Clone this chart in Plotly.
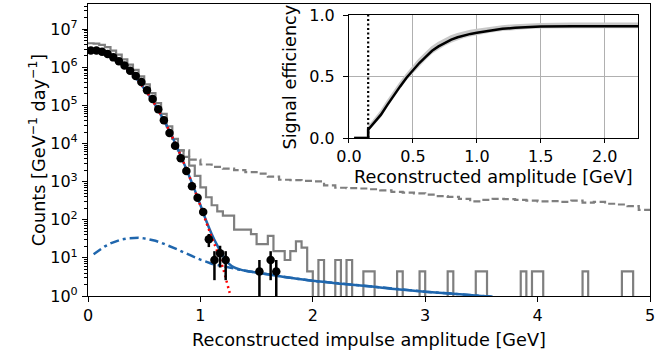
import plotly.graph_objects as go

# ---------------- data ----------------
# measured points (bin centres, GeV) and rates [GeV^-1 day^-1]
pt_x = [0.025, 0.075, 0.125, 0.175, 0.225, 0.275, 0.325, 0.375, 0.425, 0.475,
        0.525, 0.575, 0.625, 0.675, 0.725, 0.775, 0.825, 0.875, 0.925, 0.975,
        1.025, 1.075, 1.125, 1.175, 1.225, 1.525, 1.625, 1.675]
pt_y = [2.75e6, 2.75e6, 2.57e6, 2.24e6, 1.82e6, 1.45e6, 1.12e6, 8.1e5, 5.9e5, 4.1e5,
        2.5e5, 1.48e5, 7.9e4, 4.1e4, 1.9e4, 8.7e3, 4.1e3, 1.9e3, 760, 380,
        160, 30.8, 8.8, 13.2, 8.8, 4.4, 8.8, 4.4]
pt_err_up = [3500, 3500, 3400, 3100, 2800, 2500, 2200, 1900, 1600, 1350,
             1050, 800, 590, 420, 290, 195, 134, 91, 58, 41,
             26.5, 11.6, 6.2, 7.6, 6.2, 4.4, 6.2, 4.4]
pt_err_dn = [3500, 3500, 3400, 3100, 2800, 2500, 2200, 1900, 1600, 1350,
             1050, 800, 590, 420, 290, 195, 134, 91, 58, 41,
             26.5, 11.6, 6.2, 7.6, 6.2, 3.4, 6.2, 3.4]

# histogram after cuts (solid grey), 0.05 GeV bins starting at 0
hist_edge0 = 0.0
hist_width = 0.05
hist_solid = [4.27e6, 4.17e6, 3.89e6, 3.39e6, 2.75e6, 2.14e6, 1.62e6, 1.17e6, 8.5e5, 5.75e5,
              3.55e5, 2.09e5, 1.15e5, 6.0e4, 2.8e4, 1.32e4, 6600, 4470, 2630, 1410,
              710, 390, 240, 166, 129, 129, 55, 55, 55, 42,
              23, 23, 38, 15, 15, 8.8, 15, 27, 18.5, 4.4,
              0, 8.8, 0, 0, 8.8, 0, 8.8, 0, 0, 4.4,
              4.4, 0, 0, 0, 0, 4.4, 0, 0, 0, 4.4,
              0, 0, 0, 0, 4.4, 0, 0, 0, 0, 4.4,
              4.4, 0, 0, 0, 0, 0, 0, 4.4, 0, 4.4,
              4.4, 0, 0, 0, 0, 0, 0, 0, 4.4, 0,
              0, 0, 0, 0, 0, 4.4, 4.4, 0, 0, 0]

# histogram before cuts (dashed grey), 0.1 GeV bins starting at 0.8
dash_edge0 = 0.8
dash_width = 0.1
hist_dashed = [6600, 3800, 2820, 2450, 2190, 2000, 1780, 1620, 1350, 1120,
               1100, 1050, 1020, 794, 692, 676, 661, 631, 589, 537,
               513, 490, 457, 417, 398, 355, 302, 331, 355, 347,
               331, 316, 302, 309, 295, 316, 282, 295, 263, 251,
               229, 182]

# fit components
fit_x = [0.00, 0.05, 0.10, 0.15, 0.20, 0.25, 0.30, 0.35, 0.40, 0.45,
         0.50, 0.55, 0.60, 0.65, 0.70, 0.75, 0.80, 0.85, 0.90, 0.95,
         1.00, 1.05, 1.10, 1.15, 1.20, 1.25, 1.30]
signal_y = [2.82e6, 2.75e6, 2.57e6, 2.29e6, 1.95e6, 1.58e6, 1.23e6, 9.1e5, 6.5e5, 4.3e5,
            2.75e5, 1.70e5, 1.0e5, 5.5e4, 2.95e4, 1.48e4, 7.1e3, 3.2e3, 1.41e3, 590,
            234, 89, 35.5, 14.8, 5.5, 1.58, 0.45]

total_x = [0.00, 0.05, 0.10, 0.15, 0.20, 0.25, 0.30, 0.35, 0.40, 0.45,
           0.50, 0.55, 0.60, 0.65, 0.70, 0.75, 0.80, 0.85, 0.90, 0.95,
           1.00, 1.05, 1.10, 1.15, 1.20, 1.25, 1.30, 1.35, 1.40, 1.50,
           1.60, 1.80, 2.00, 2.25, 2.50, 2.75, 3.00, 3.25, 3.50, 3.60]
total_y = [2.82e6, 2.75e6, 2.57e6, 2.29e6, 1.95e6, 1.58e6, 1.23e6, 9.1e5, 6.5e5, 4.3e5,
           2.75e5, 1.70e5, 1.0e5, 5.5e4, 2.95e4, 1.48e4, 7.1e3, 3.2e3, 1.41e3, 600,
           243, 97, 42.5, 21.3, 11.5, 7.2, 5.65, 5.0, 4.6, 4.1,
           3.7, 3.0, 2.5, 2.1, 1.8, 1.5, 1.3, 1.15, 1.0, 0.95]

bkg_x = [0.05, 0.10, 0.15, 0.20, 0.25, 0.30, 0.35, 0.40, 0.45, 0.50,
         0.55, 0.60, 0.65, 0.70, 0.75, 0.80, 0.85, 0.90, 0.95, 1.00,
         1.05, 1.10, 1.15, 1.20, 1.25, 1.30, 1.35, 1.40, 1.50, 1.60,
         1.80, 2.00, 2.25, 2.50, 2.75, 3.00, 3.25, 3.50, 3.60]
bkg_y = [12.5, 16, 20, 24, 27.5, 30.5, 32.5, 33.5, 33.5, 32.5,
         30.5, 28, 25, 22, 19, 16.5, 14, 12, 10.5, 9,
         8, 7, 6.5, 6, 5.6, 5.2, 4.9, 4.6, 4.1, 3.7,
         3.0, 2.5, 2.1, 1.8, 1.5, 1.3, 1.15, 1.0, 0.95]

# inset: signal efficiency
eff_x = [0.04, 0.15, 0.15, 0.20, 0.25, 0.30, 0.35, 0.40, 0.45, 0.50,
         0.55, 0.60, 0.65, 0.70, 0.75, 0.80, 0.85, 0.90, 0.95, 1.00,
         1.10, 1.20, 1.30, 1.40, 1.50, 1.75, 2.00, 2.26]
eff_y = [0.0, 0.0, 0.068, 0.13, 0.19, 0.27, 0.35, 0.42, 0.49, 0.55,
         0.61, 0.66, 0.71, 0.745, 0.775, 0.80, 0.82, 0.835, 0.847, 0.857,
         0.875, 0.888, 0.897, 0.903, 0.907, 0.91, 0.91, 0.91]
eff_lo = [0.0, 0.0, 0.055, 0.115, 0.17, 0.25, 0.33, 0.40, 0.47, 0.525,
          0.585, 0.635, 0.685, 0.72, 0.75, 0.775, 0.797, 0.813, 0.826, 0.837,
          0.856, 0.87, 0.88, 0.886, 0.89, 0.893, 0.893, 0.893]
eff_hi = [0.0, 0.0, 0.08, 0.145, 0.21, 0.29, 0.37, 0.44, 0.51, 0.575,
          0.635, 0.685, 0.735, 0.77, 0.80, 0.825, 0.843, 0.857, 0.868, 0.877,
          0.894, 0.906, 0.914, 0.92, 0.924, 0.927, 0.927, 0.927]
threshold = 0.15

# ---------------- build ----------------
BLUE = "#1f66ad"
GREY = "#7f7f7f"
FONT = "DejaVu Sans"
TICK_SIZE = 16
TITLE_SIZE = 17.7


def step_xy(edge0, width, vals, floor=1e-2):
    xs, ys = [], []
    for i, v in enumerate(vals):
        xs.append(edge0 + i * width)
        ys.append(v if v > 0 else floor)
    xs.append(edge0 + len(vals) * width)
    ys.append(ys[-1])
    return xs, ys


fig = go.Figure()

dx, dy = step_xy(dash_edge0, dash_width, hist_dashed)
fig.add_trace(go.Scatter(x=dx, y=dy, mode="lines", line=dict(color=GREY, width=2.2, dash="7px,3.5px", shape="hv"),
                         showlegend=False, hoverinfo="skip"))
sx, sy = step_xy(hist_edge0, hist_width, hist_solid)
fig.add_trace(go.Scatter(x=sx, y=sy, mode="lines", line=dict(color=GREY, width=2.2, shape="hv"),
                         showlegend=False, hoverinfo="skip"))
fig.add_trace(go.Scatter(x=bkg_x, y=bkg_y, mode="lines", line=dict(color=BLUE, width=2.5, dash="9px,4px,3px,4px"),
                         showlegend=False))
fig.add_trace(go.Scatter(x=total_x, y=total_y, mode="lines", line=dict(color=BLUE, width=2.5, shape="spline"),
                         showlegend=False))
fig.add_trace(go.Scatter(x=fit_x, y=signal_y, mode="lines", line=dict(color="#ff0000", width=2.5, dash="2px,3.5px", shape="spline"),
                         showlegend=False))
fig.add_trace(go.Scatter(x=pt_x, y=pt_y, mode="markers",
                         marker=dict(color="black", size=8.5),
                         error_y=dict(type="data", array=pt_err_up, arrayminus=pt_err_dn, symmetric=False,
                                      color="black", thickness=2.5, width=0),
                         showlegend=False))

# inset
fig.add_trace(go.Scatter(x=eff_x, y=eff_lo, mode="lines", line=dict(color="rgba(0,0,0,0)", width=0),
                         xaxis="x2", yaxis="y2", showlegend=False, hoverinfo="skip"))
fig.add_trace(go.Scatter(x=eff_x, y=eff_hi, mode="lines", line=dict(color="#c8c8c8", width=3), fill="tonexty",
                         fillcolor="#d0d0d0", xaxis="x2", yaxis="y2", showlegend=False, hoverinfo="skip"))
fig.add_trace(go.Scatter(x=[threshold, threshold], y=[0, 1], mode="lines",
                         line=dict(color="black", width=2.2, dash="2px,2.5px"),
                         xaxis="x2", yaxis="y2", showlegend=False))
fig.add_trace(go.Scatter(x=eff_x, y=eff_y, mode="lines", line=dict(color="black", width=2.5),
                         xaxis="x2", yaxis="y2", showlegend=False))

dec_vals = [10 ** k for k in range(0, 8)]
dec_text = ["10<sup>%d</sup>" % k for k in range(0, 8)]
minor_vals = [m * 10 ** k for k in range(0, 8) for m in range(2, 10)]

axis_common = dict(showline=True, linecolor="black", linewidth=1.2, mirror=True, automargin=False,
                   ticks="outside", tickcolor="black", ticklen=5, tickwidth=1.2,
                   showgrid=False, zeroline=False, tickfont=dict(family=FONT, size=TICK_SIZE, color="black"))
inset_common = {**axis_common, "showgrid": True, "gridcolor": "#b0b0b0", "gridwidth": 1}

# inset domain in paper fractions
inset_x0, inset_x1 = 0.4644, 0.9786
inset_y0, inset_y1 = 0.541, 0.962

fig.update_layout(
    width=670, height=360,
    margin=dict(l=88, r=20, t=4, b=64),
    paper_bgcolor="white", plot_bgcolor="white",
    font=dict(family=FONT, size=TICK_SIZE, color="black"),
    xaxis=dict(range=[0, 5], domain=[0, 1], tickvals=[0, 1, 2, 3, 4, 5],
               title=dict(text="Reconstructed impulse amplitude [GeV]", font=dict(family=FONT, size=TITLE_SIZE), standoff=9),
               **axis_common),
    yaxis=dict(type="log", range=[0, 7.66], domain=[0, 1], tickvals=dec_vals, ticktext=dec_text,
               ticklabelstandoff=1,
               minor=dict(tickvals=minor_vals, ticks="outside", ticklen=2.5, tickcolor="black", tickwidth=0.8),
               title=dict(text="Counts [GeV<sup>−1</sup> day<sup>−1</sup>]", font=dict(family=FONT, size=TITLE_SIZE), standoff=0),
               **axis_common),
    xaxis2=dict(range=[0, 2.26], domain=[inset_x0, inset_x1], anchor="y2", tickvals=[0, 0.5, 1.0, 1.5, 2.0],
                ticktext=["0.0", "0.5", "1.0", "1.5", "2.0"],
                **{**inset_common, "ticklen": 4}),
    yaxis2=dict(range=[0, 1], domain=[inset_y0, inset_y1], anchor="x2", tickvals=[0, 0.5, 1.0],
                ticktext=["0.0", "0.5", "1.0"], ticklabelstandoff=5,
                **inset_common),
    annotations=[
        dict(text="Reconstructed amplitude [GeV]", xref="paper", yref="paper",
             x=(inset_x0 + inset_x1) / 2, y=0.408, xanchor="center", yanchor="middle",
             showarrow=False, font=dict(family=FONT, size=TITLE_SIZE, color="black")),
        dict(text="Signal efficiency", xref="paper", yref="paper", textangle=-90,
             x=0.3594, y=(inset_y0 + inset_y1) / 2, xanchor="center", yanchor="middle",
             showarrow=False, font=dict(family=FONT, size=TITLE_SIZE, color="black")),
    ],
)

fig.write_html("out.html", config={"displayModeBar": False},
               post_script="document.body.style.margin='0';")
